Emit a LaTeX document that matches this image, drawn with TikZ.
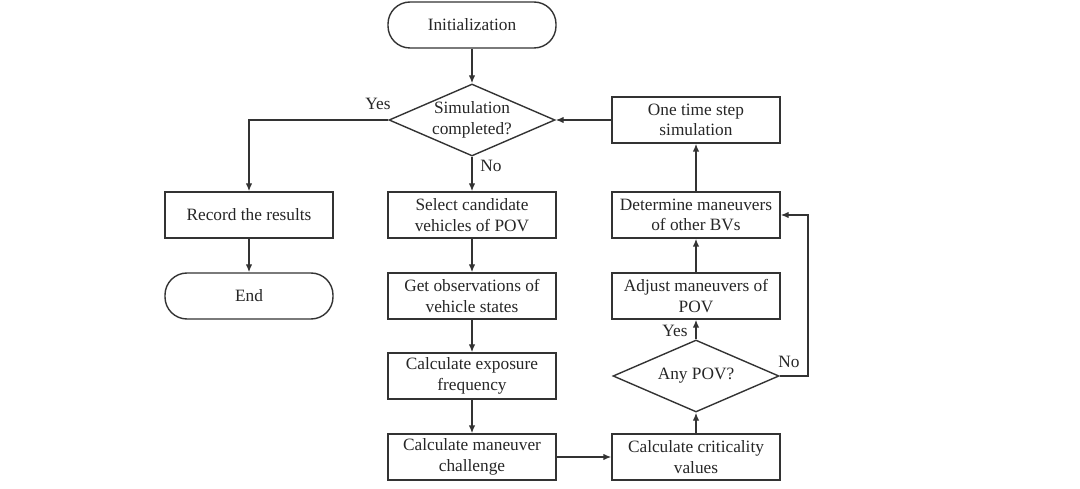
\documentclass[tikz,border=0pt]{standalone}
\usepackage{fontspec}
\setmainfont{Liberation Serif}
\usetikzlibrary{shapes.geometric,arrows.meta}
\begin{document}
\begin{tikzpicture}[x=1pt,y=-1pt,
  every node/.style={font=\fontsize{17.3}{20.5}\selectfont, text=black!85},
  box/.style={draw=black!80, line width=1.4pt, minimum width=168pt, minimum height=46pt, align=center, inner sep=1pt},
  pill/.style={box, rounded corners=22pt},
  dia/.style={draw=black!80, line width=1.4pt, diamond, aspect=2.3, minimum width=166pt, minimum height=72pt, align=center, inner sep=0pt},
  arr/.style={draw=black!80, line width=1.4pt, -{Latex[length=8pt,width=6.5pt]}},
  lbl/.style={font=\fontsize{17.3}{20.5}\selectfont}
]
\useasboundingbox (0,0) rectangle (1080,489);
\node[pill] (init) at (472,25) {Initialization};
\node[dia] (sim) at (472,120) {Simulation\\completed?};
\node[box] (rec) at (249,215) {Record the results};
\node[pill] (end) at (249,296) {End};
\node[box] (sel) at (472,215) {Select candidate\\vehicles of POV};
\node[box] (obs) at (472,296) {Get observations of\\vehicle states};
\node[box] (exp) at (472,376) {Calculate exposure\\frequency};
\node[box] (man) at (472,457) {Calculate maneuver\\challenge};
\node[box] (crit) at (696,457) {Calculate criticality\\values};
\node[dia] (any) at (696,376) {Any POV?};
\node[box] (adj) at (696,296) {Adjust maneuvers of\\POV};
\node[box] (det) at (696,215) {Determine maneuvers\\of other BVs};
\node[box] (one) at (696,120) {One time step\\simulation};
\coordinate (nocorner) at (808,376);

\draw[arr] (init) -- (sim);
\draw[arr] (sim.west) -| (rec.north);
\draw[arr] (sim.south) -- (sel.north);
\draw[arr] (rec) -- (end);
\draw[arr] (sel) -- (obs);
\draw[arr] (obs) -- (exp);
\draw[arr] (exp) -- (man);
\draw[arr] (man) -- (crit);
\draw[arr] (crit) -- (any.south);
\draw[arr] (any.north) -- (adj);
\draw[arr] (adj) -- (det);
\draw[arr] (det) -- (one);
\draw[arr] (one.west) -- (sim.east);
\draw[arr] (any.east) -- (nocorner) |- (det.east);

\node[lbl] (yes1) at (378,104) {Yes};
\node[lbl] (no1) at (491,166) {No};
\node[lbl] (yes2) at (675,331) {Yes};
\node[lbl] (no2) at (789,362) {No};
\end{tikzpicture}
\end{document}
